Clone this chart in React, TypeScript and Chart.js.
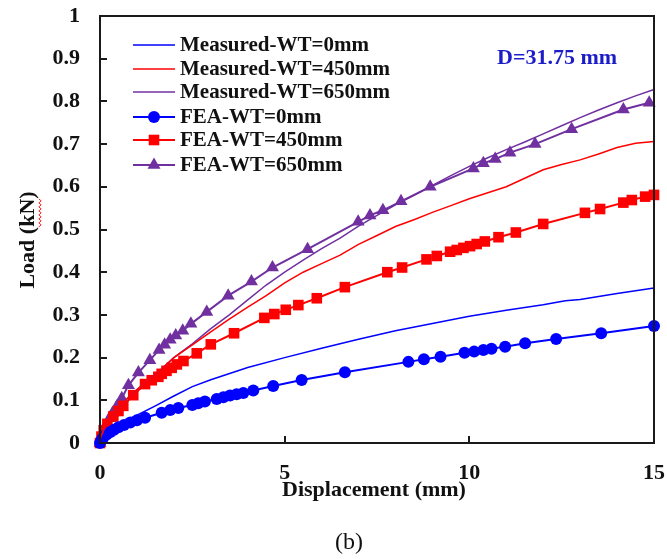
import React, { useEffect, useRef } from "react";
import { Chart, registerables } from "chart.js";

Chart.register(...registerables);

// ---- Data ----
const measured0X = [0, 0.1, 0.3, 0.6, 1.0, 1.5, 2.0, 2.5, 3.0, 4.0, 5.0, 6.0, 7.0, 8.0, 9.0, 10.0, 11.0, 12.0, 12.6, 13.0, 14.0, 15.0];
const measured0Y = [0, 0.02, 0.035, 0.048, 0.065, 0.087, 0.11, 0.132, 0.148, 0.177, 0.2, 0.222, 0.243, 0.263, 0.28, 0.297, 0.311, 0.324, 0.333, 0.336, 0.35, 0.363];

const measured450X = [0, 0.05, 0.15, 0.3, 0.5, 0.8, 1.2, 1.6, 2.0, 2.5, 3.0, 3.5, 4.0, 4.5, 5.0, 5.5, 6.0, 6.5, 7.0, 7.5, 8.0, 8.5, 9.0, 9.5, 10.0, 10.5, 11.0, 11.5, 12.0, 12.5, 13.0, 13.5, 14.0, 14.5, 15.0];
const measured450Y = [0, 0.02, 0.04, 0.06, 0.08, 0.11, 0.14, 0.168, 0.2, 0.23, 0.26, 0.29, 0.318, 0.345, 0.375, 0.4, 0.42, 0.44, 0.465, 0.486, 0.507, 0.523, 0.54, 0.556, 0.572, 0.586, 0.6, 0.62, 0.64, 0.652, 0.663, 0.677, 0.692, 0.702, 0.706];

const measured650X = [0, 0.05, 0.15, 0.3, 0.5, 0.8, 1.2, 1.6, 2.0, 2.5, 3.0, 3.5, 4.0, 4.5, 5.0, 5.5, 6.0, 6.5, 7.0, 7.5, 8.0, 8.5, 9.0, 9.5, 10.0, 10.5, 11.0, 11.5, 12.0, 12.5, 13.0, 13.5, 14.0, 14.5, 15.0];
const measured650Y = [0, 0.02, 0.04, 0.06, 0.08, 0.11, 0.14, 0.168, 0.2, 0.232, 0.268, 0.3, 0.335, 0.37, 0.4, 0.428, 0.455, 0.48, 0.508, 0.533, 0.558, 0.58, 0.603, 0.626, 0.648, 0.668, 0.687, 0.705, 0.724, 0.743, 0.762, 0.78, 0.797, 0.813, 0.828];

const fea0X = [0, 0.05, 0.1, 0.18, 0.28, 0.38, 0.5, 0.65, 0.82, 1.0, 1.22, 1.67, 1.9, 2.12, 2.5, 2.66, 2.84, 3.16, 3.34, 3.52, 3.7, 3.88, 4.15, 4.69, 5.46, 6.63, 8.35, 8.77, 9.22, 9.87, 10.13, 10.38, 10.6, 10.97, 11.51, 12.35, 13.57, 15.0];
const fea0Y = [0, 0.008, 0.014, 0.02, 0.026, 0.031, 0.037, 0.042, 0.048, 0.053, 0.059, 0.071, 0.077, 0.082, 0.089, 0.093, 0.097, 0.103, 0.107, 0.111, 0.114, 0.117, 0.123, 0.1335, 0.1475, 0.1655, 0.19, 0.196, 0.202, 0.2115, 0.214, 0.218, 0.221, 0.2255, 0.2335, 0.2435, 0.257, 0.274];

const fea450X = [0, 0.04, 0.1, 0.2, 0.36, 0.5, 0.63, 0.9, 1.22, 1.4, 1.58, 1.67, 1.8, 1.94, 2.08, 2.26, 2.62, 3.0, 3.63, 4.45, 4.72, 5.03, 5.37, 5.87, 6.63, 7.78, 8.18, 8.84, 9.12, 9.48, 9.66, 9.84, 10.02, 10.2, 10.42, 10.79, 11.26, 12.0, 13.13, 13.54, 14.17, 14.4, 14.76, 15.0];
const fea450Y = [0, 0.015, 0.03, 0.045, 0.062, 0.075, 0.087, 0.112, 0.138, 0.147, 0.155, 0.162, 0.169, 0.176, 0.184, 0.192, 0.21, 0.231, 0.257, 0.293, 0.302, 0.312, 0.323, 0.339, 0.365, 0.4, 0.411, 0.43, 0.438, 0.448, 0.452, 0.457, 0.461, 0.466, 0.472, 0.482, 0.493, 0.513, 0.539, 0.548, 0.563, 0.569, 0.577, 0.581];

const fea650X = [0, 0.04, 0.1, 0.18, 0.26, 0.34, 0.45, 0.59, 0.77, 1.04, 1.35, 1.6, 1.75, 1.9, 2.05, 2.24, 2.46, 2.89, 3.47, 4.1, 4.67, 5.62, 6.99, 7.31, 7.66, 8.15, 8.94, 10.11, 10.38, 10.7, 11.1, 11.78, 12.77, 14.17, 14.87];
const fea650Y = [0, 0.015, 0.03, 0.045, 0.058, 0.07, 0.085, 0.105, 0.135, 0.165, 0.194, 0.218, 0.23, 0.242, 0.252, 0.263, 0.279, 0.307, 0.345, 0.378, 0.411, 0.454, 0.518, 0.533, 0.545, 0.566, 0.6, 0.643, 0.655, 0.665, 0.68, 0.7, 0.735, 0.781, 0.797];

const xTickValues = [0, 5, 10, 15];
const yTickValues = [0, 0.1, 0.2, 0.3, 0.4, 0.5, 0.6, 0.7, 0.8, 0.9, 1];

const seriesNames = [
  "Measured-WT=0mm",
  "Measured-WT=450mm",
  "Measured-WT=650mm",
  "FEA-WT=0mm",
  "FEA-WT=450mm",
  "FEA-WT=650mm",
];

const xTitle = "Displacement (mm)";
const yTitle = "Load (kN)";
const noteText = "D=31.75 mm";
const captionText = "(b)";

const BLUE = "#0000ff";
const RED = "#ff0000";
const PURPLE = "#7030a0";
const SERIF = '"Times New Roman", "Liberation Serif", serif';

const toPts = (xs: number[], ys: number[]) => xs.map((x, i) => ({ x, y: ys[i] }));

const overlayPlugin = {
  id: "overlay",
  afterDraw(chart: any) {
    const { ctx, chartArea, scales } = chart;
    const { left, top, right, bottom } = chartArea;
    const xs = scales.x;
    const ys = scales.y;
    ctx.save();
    // frame
    ctx.strokeStyle = "#1a1a1a";
    ctx.lineWidth = 2;
    ctx.strokeRect(left, top, right - left, bottom - top);
    // inward ticks
    ctx.beginPath();
    yTickValues.forEach((v) => {
      const py = Math.round(ys.getPixelForValue(v));
      ctx.moveTo(left, py);
      ctx.lineTo(left + 7, py);
    });
    xTickValues.forEach((v) => {
      const px = Math.round(xs.getPixelForValue(v));
      ctx.moveTo(px, bottom);
      ctx.lineTo(px, bottom - 7);
    });
    ctx.stroke();

    // legend
    const colors = [BLUE, RED, PURPLE, BLUE, RED, PURPLE];
    const styles = ["", "", "", "circle", "rect", "triangle"];
    const radii = [0, 0, 0, 6, 7.5, 7.5];
    const rowsY = [45, 69, 92, 117, 140, 165];
    ctx.font = `bold 21px ${SERIF}`;
    ctx.textBaseline = "middle";
    ctx.textAlign = "left";
    seriesNames.forEach((name, i) => {
      const y = rowsY[i];
      ctx.strokeStyle = colors[i];
      ctx.lineWidth = i < 3 ? 1.5 : 2;
      ctx.beginPath();
      ctx.moveTo(133, y);
      ctx.lineTo(175, y);
      ctx.stroke();
      if (styles[i]) {
        ctx.fillStyle = colors[i];
        ctx.beginPath();
        const cx = 154;
        const r = radii[i];
        if (styles[i] === "circle") {
          ctx.arc(cx, y, r, 0, Math.PI * 2);
        } else if (styles[i] === "rect") {
          const s = r * Math.SQRT1_2;
          ctx.rect(cx - s, y - s, 2 * s, 2 * s);
        } else {
          ctx.moveTo(cx, y - r);
          ctx.lineTo(cx + r * 0.866, y + r * 0.5);
          ctx.lineTo(cx - r * 0.866, y + r * 0.5);
          ctx.closePath();
        }
        ctx.fill();
      }
      ctx.fillStyle = "#111";
      ctx.fillText(name, 180, y + 1);
    });

    // annotation
    ctx.fillStyle = "#1c1cc8";
    ctx.font = `bold 22px ${SERIF}`;
    ctx.fillText(noteText, 497, 58);

    // axis titles
    ctx.fillStyle = "#111";
    ctx.font = `bold 22px ${SERIF}`;
    ctx.textAlign = "center";
    ctx.fillText(xTitle, 374, 490);
    ctx.save();
    ctx.translate(28, 240);
    ctx.rotate(-Math.PI / 2);
    ctx.fillText(yTitle, 0, 0);
    // red squiggle under "kN"
    const full = ctx.measureText(yTitle).width;
    const pre = ctx.measureText("Load (").width;
    const kn = ctx.measureText("kN").width;
    const sx = -full / 2 + pre;
    ctx.strokeStyle = "#ff0000";
    ctx.lineWidth = 1;
    ctx.beginPath();
    for (let i = 0; i <= kn; i += 2) {
      const yy = 11 + (Math.floor(i / 2) % 2 === 0 ? 0 : 2);
      if (i === 0) ctx.moveTo(sx + i, yy);
      else ctx.lineTo(sx + i, yy);
    }
    ctx.stroke();
    ctx.restore();

    // caption
    ctx.font = `24px ${SERIF}`;
    ctx.fillStyle = "#111";
    ctx.fillText(captionText, 349, 543);
    ctx.restore();
  },
};

export default function App() {
  const ref = useRef<HTMLCanvasElement | null>(null);
  useEffect(() => {
    if (!ref.current) return;
    const lineDs = (label: string, xs: number[], ys: number[], color: string) => ({
      label,
      data: toPts(xs, ys),
      borderColor: color,
      backgroundColor: color,
      borderWidth: 1.5,
      pointRadius: 0,
      showLine: true,
      tension: 0,
      clip: false as any,
    });
    const feaDs = (label: string, xs: number[], ys: number[], color: string, style: string, r: number) => ({
      label,
      data: toPts(xs, ys),
      borderColor: color,
      backgroundColor: color,
      borderWidth: 2,
      pointRadius: r,
      pointStyle: style,
      pointBorderWidth: 0,
      showLine: true,
      tension: 0,
      clip: false as any,
    });
    const chart = new Chart(ref.current, {
      type: "scatter",
      data: {
        datasets: [
          lineDs(seriesNames[0], measured0X, measured0Y, BLUE),
          lineDs(seriesNames[1], measured450X, measured450Y, RED),
          lineDs(seriesNames[2], measured650X, measured650Y, PURPLE),
          feaDs(seriesNames[3], fea0X, fea0Y, BLUE, "circle", 6),
          feaDs(seriesNames[4], fea450X, fea450Y, RED, "rect", 7.5),
          feaDs(seriesNames[5], fea650X, fea650Y, PURPLE, "triangle", 7.5),
        ],
      },
      options: {
        animation: false,
        responsive: false,
        devicePixelRatio: 1,
        layout: { padding: { left: 0, top: 16, right: 13, bottom: 0 } },
        plugins: { legend: { display: false }, tooltip: { enabled: false } },
        scales: {
          x: {
            type: "linear",
            min: 0,
            max: 15,
            afterFit: (axis: any) => {
              axis.height = 116;
              axis.paddingLeft = 0;
              axis.paddingRight = 0;
              axis.paddingTop = 0;
              axis.paddingBottom = 0;
            },
            afterBuildTicks: (axis: any) => {
              axis.ticks = xTickValues.map((v) => ({ value: v }));
            },
            grid: { display: false },
            border: { display: false },
            ticks: {
              color: "#111",
              padding: 9,
              font: { family: SERIF, size: 22, weight: "bold" },
              callback: (v: any) => String(v),
            },
          },
          y: {
            type: "linear",
            min: 0,
            max: 1,
            afterFit: (axis: any) => {
              axis.width = 100;
              axis.paddingLeft = 0;
              axis.paddingRight = 0;
              axis.paddingTop = 0;
              axis.paddingBottom = 0;
            },
            afterBuildTicks: (axis: any) => {
              axis.ticks = yTickValues.map((v) => ({ value: v }));
            },
            grid: { display: false },
            border: { display: false },
            ticks: {
              color: "#111",
              padding: 12,
              font: { family: SERIF, size: 22, weight: "bold" },
              callback: (v: any) => String(Math.round(Number(v) * 10) / 10),
            },
          },
        },
      },
      plugins: [overlayPlugin],
    });
    return () => chart.destroy();
  }, []);
  return (
    <div style={{ position: "absolute", left: 0, top: 0, width: 667, height: 559, background: "#fff" }}>
      <canvas ref={ref} width={667} height={559} style={{ width: 667, height: 559, display: "block" }} />
    </div>
  );
}
